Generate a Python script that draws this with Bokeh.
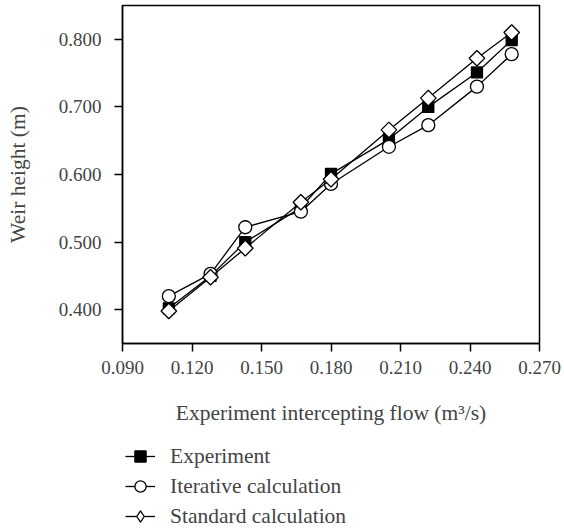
from bokeh.plotting import figure
from bokeh.layouts import column
from bokeh.models import FixedTicker, PrintfTickFormatter, Legend, LegendItem, Range1d
from bokeh.embed import file_html
from bokeh.resources import INLINE

# Intercepted flow (m^3/s) and weir heights (m) for each method
flow = [0.110, 0.128, 0.143, 0.167, 0.180, 0.205, 0.222, 0.243, 0.258]
experiment = [0.402, 0.450, 0.500, 0.551, 0.601, 0.652, 0.700, 0.751, 0.799]
iterative = [0.420, 0.453, 0.522, 0.545, 0.586, 0.641, 0.673, 0.730, 0.778]
standard = [0.398, 0.448, 0.491, 0.559, 0.593, 0.666, 0.713, 0.772, 0.810]
series_names = ["Experiment", "Iterative calculation", "Standard calculation"]

x_ticks = [0.090, 0.120, 0.150, 0.180, 0.210, 0.240, 0.270]
y_ticks = [0.400, 0.500, 0.600, 0.700, 0.800]

FONT = "Liberation Serif"
TICK_FS = "19px"
TITLE_FS = "21.5px"
LW = 1.3

p = figure(frame_width=417, frame_height=338, output_backend="svg", toolbar_location=None,
           x_range=Range1d(0.090, 0.270), y_range=Range1d(0.35, 0.85),
           min_border_left=122, min_border_right=25, min_border_top=5,
           min_border_bottom=92)
p.grid.visible = False
p.outline_line_color = "black"
p.outline_line_width = 1.5

for ax, ticks in ((p.xaxis[0], x_ticks), (p.yaxis[0], y_ticks)):
    ax.ticker = FixedTicker(ticks=ticks)
    ax.formatter = PrintfTickFormatter(format="%.3f")
    ax.minor_tick_line_color = None
    ax.major_tick_in = 0
    ax.major_tick_out = 8
    ax.axis_line_width = 1.5
    ax.major_tick_line_width = 1.5
    ax.major_label_text_font = FONT
    ax.major_label_text_font_size = TICK_FS
    ax.axis_label_text_font = FONT
    ax.axis_label_text_font_size = TITLE_FS
    ax.axis_label_text_font_style = "normal"

p.xaxis.major_label_standoff = 9
p.yaxis.major_label_standoff = 13
p.xaxis.axis_label = "Experiment intercepting flow (m\u00b3/s)"
p.xaxis.axis_label_standoff = 24
p.yaxis.axis_label = "Weir height (m)"
p.yaxis.axis_label_standoff = 26

STYLES = [
    dict(marker="square", size=11, fill_color="black"),
    dict(marker="circle", size=13, fill_color="white"),
    dict(marker="square", size=11, angle=0.7854, fill_color="white"),
]
# the key draws markers unrotated, so the diamond uses Bokeh's own diamond shape there
KEY_STYLES = [
    dict(marker="square", fill_color="black"),
    dict(marker="circle", fill_color="white"),
    dict(marker="diamond", fill_color="white"),
]
SERIES = [experiment, iterative, standard]

for ys, st in zip(SERIES, STYLES):
    p.line(flow, ys, line_color="black", line_width=LW)
    p.scatter(flow, ys, line_color="black", line_width=LW, **st)

# key panel under the chart; its range sits above the data so only the key shows
key = figure(frame_width=417, frame_height=96, output_backend="svg", toolbar_location=None,
             x_axis_location=None, y_axis_location=None,
             x_range=Range1d(0.090, 0.270), y_range=Range1d(2.0, 3.0),
             min_border_left=122, min_border_right=25, min_border_top=0,
             min_border_bottom=0, outline_line_color=None)
key.grid.visible = False
items = []
for name, ys, st in zip(series_names, SERIES, KEY_STYLES):
    rl = key.line(flow, ys, line_color="black", line_width=LW)
    rm = key.scatter(flow, ys, line_color="black", line_width=LW, **st)
    items.append(LegendItem(label=name, renderers=[rl, rm]))

legend = Legend(items=items, location=(3, 0), orientation="vertical")
legend.border_line_color = None
legend.background_fill_alpha = 0
legend.label_text_font = FONT
legend.label_text_font_size = TITLE_FS
legend.glyph_width = 30
legend.glyph_height = 28
legend.label_height = 30
legend.spacing = 0
legend.padding = 0
legend.margin = 0
legend.label_standoff = 15
key.add_layout(legend)

layout = column(p, key, spacing=0)
open("out.html", "w").write(file_html(layout, INLINE))
